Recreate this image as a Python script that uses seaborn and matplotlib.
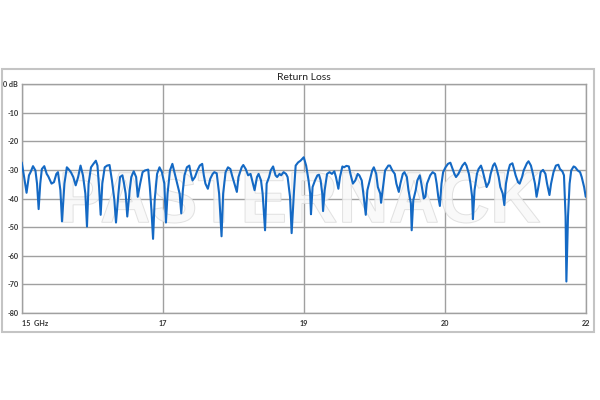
import numpy as np
import matplotlib
matplotlib.use("Agg")
import matplotlib.pyplot as plt
import seaborn as sns
from matplotlib.textpath import TextPath
from matplotlib.patches import PathPatch, Rectangle
from matplotlib.font_manager import FontProperties
from matplotlib.transforms import Affine2D

# frequency sweep (GHz) and return loss (dB)
freq = [15.00, 15.03, 15.06, 15.09, 15.11, 15.14, 15.17, 15.19, 15.21, 15.23,
        15.25, 15.28, 15.31, 15.33, 15.37, 15.40, 15.43, 15.45, 15.48, 15.50,
        15.53, 15.56, 15.58, 15.61, 15.64, 15.67, 15.70, 15.73, 15.76, 15.79,
        15.81, 15.83, 15.86, 15.89, 15.92, 15.94, 15.96, 15.98, 16.00, 16.03,
        16.06, 16.09, 16.12, 16.15, 16.17, 16.20, 16.22, 16.25, 16.27, 16.29,
        16.31, 16.34, 16.36, 16.39, 16.42, 16.44, 16.47, 16.50, 16.53, 16.57,
        16.59, 16.61, 16.63, 16.65, 16.68, 16.71, 16.74, 16.77, 16.79, 16.81,
        16.84, 16.87, 16.89, 16.91, 16.94, 16.96, 16.98, 17.00, 17.02, 17.05,
        17.08, 17.10, 17.12, 17.15, 17.18, 17.21, 17.24, 17.26, 17.28, 17.31,
        17.34, 17.37, 17.39, 17.42, 17.45, 17.48, 17.50, 17.53, 17.56, 17.59,
        17.61, 17.64, 17.67, 17.69, 17.73, 17.75, 17.78, 17.81, 17.84, 17.87,
        17.89, 17.92, 17.94, 17.97, 17.99, 18.02, 18.04, 18.07, 18.09, 18.12,
        18.15, 18.17, 18.20, 18.22, 18.25, 18.28, 18.30, 18.33, 18.35, 18.38,
        18.40, 18.43, 18.46,
        18.50, 18.53, 18.56, 18.58, 18.59, 18.61, 18.64, 18.67, 18.69, 18.71,
        18.73, 18.74, 18.76, 18.79, 18.82, 18.85, 18.88, 18.90, 18.93, 18.95,
        18.98, 19.00, 19.03, 19.06, 19.08, 19.11, 19.14, 19.17, 19.19, 19.22,
        19.24, 19.27, 19.29, 19.32, 19.35, 19.37, 19.40, 19.42, 19.45, 19.46,
        19.49, 19.51, 19.55, 19.57, 19.60, 19.63, 19.65, 19.68, 19.70, 19.73,
        19.75, 19.78, 19.80, 19.83, 19.84, 19.86, 19.89, 19.91, 19.94, 19.96,
        19.99, 20.01, 20.03, 20.07, 20.10, 20.13, 20.15, 20.17, 20.19, 20.21,
        20.23, 20.26, 20.29, 20.32, 20.34, 20.37, 20.39, 20.42, 20.44, 20.47,
        20.50, 20.52, 20.55, 20.57, 20.59, 20.60, 20.62, 20.65, 20.67, 20.70,
        20.72, 20.75, 20.77, 20.80, 20.82, 20.85, 20.87, 20.89, 20.92, 20.94,
        20.97, 20.99, 21.01, 21.04, 21.06, 21.09, 21.11, 21.13, 21.16, 21.18,
        21.21, 21.23, 21.27, 21.29, 21.32, 21.34, 21.37, 21.39, 21.42, 21.44,
        21.47, 21.50, 21.52, 21.55, 21.57, 21.60, 21.63, 21.66, 21.68, 21.71,
        21.73, 21.75, 21.76, 21.78, 21.80, 21.82, 21.85, 21.87, 21.90, 21.93,
        21.95, 21.98, 22.00]
loss = [-27.4, -32.5, -38.0, -31.9, -30.8, -28.7, -30.2, -34.8, -43.7, -34.8,
        -29.7, -28.7, -31.4, -32.3, -34.8, -34.3, -31.4, -30.8, -37.1, -48.0,
        -34.8, -29.1, -29.7, -30.8, -32.5, -35.4, -32.5, -28.5, -31.9, -38.3,
        -49.8, -34.8, -29.1, -27.9, -26.8, -28.5, -36.0, -45.7, -34.8, -29.1,
        -28.5, -28.3, -33.7, -40.6, -48.4, -38.3, -32.5, -31.9, -34.8, -38.3,
        -46.3, -37.1, -32.5, -30.5, -32.5, -39.4, -34.8, -30.8, -30.2, -29.9,
        -36.0, -44.0, -54.1, -40.6, -31.4, -29.1, -30.8, -34.8, -48.4, -38.3,
        -30.2, -27.9, -30.2, -32.5, -36.0, -38.3, -45.2, -37.1, -31.9, -29.1,
        -28.5, -31.4, -33.7, -32.5, -30.2, -28.5, -27.9, -31.9, -34.8, -36.6,
        -33.1, -31.4, -30.8, -31.2, -38.3, -53.2, -38.3, -30.8, -29.1, -29.7,
        -31.9, -34.8, -37.7, -32.5, -29.1, -28.3, -29.7, -31.9, -31.4, -34.8,
        -37.1, -32.5, -31.4, -33.7, -38.3, -51.1, -34.8, -32.5, -30.2, -28.8,
        -31.9, -32.5, -31.4, -31.9, -30.8, -31.4, -32.5, -39.4, -52.1, -37.1,
        -28.5, -27.4, -26.8,
        -25.6, -28.5, -33.7, -38.3, -45.5, -36.0, -33.7, -31.9, -31.7, -33.7,
        -38.3, -44.4, -37.1, -31.4, -30.8, -31.4, -30.5, -32.5, -36.6, -32.5,
        -28.8, -29.1, -28.6, -28.8, -31.4, -34.8, -33.7, -31.4, -31.9, -33.7,
        -38.3, -45.7, -37.1, -33.7, -30.2, -29.1, -31.4, -36.0, -38.3, -41.5,
        -34.8, -30.2, -28.5, -28.5, -30.2, -31.4, -34.8, -37.7, -34.8, -31.4,
        -30.8, -32.5, -37.1, -41.7, -51.1, -40.6, -37.1, -33.7, -31.9, -34.8,
        -40.0, -39.4, -34.8, -31.9, -30.8, -31.4, -34.8, -39.4, -42.6, -34.8,
        -30.8, -29.1, -27.9, -27.5, -29.1, -31.4, -32.5, -31.4, -30.2, -28.5,
        -27.5, -28.5, -31.4, -34.8, -39.4, -47.2, -37.1, -31.4, -29.7, -28.5,
        -30.2, -33.7, -36.0, -34.3, -31.4, -28.5, -27.7, -29.1, -32.5, -36.0,
        -38.3, -42.3, -34.8, -30.2, -28.2, -27.7, -29.7, -31.9, -34.3, -34.8,
        -32.5, -30.2, -27.7, -27.0, -28.5, -30.8, -34.8, -39.4, -34.8, -30.8,
        -30.0, -31.4, -34.8, -38.8, -34.8, -30.8, -28.5, -28.2, -29.7, -30.5,
        -31.9, -46.3, -69.0, -46.3, -34.8, -30.2, -28.8, -29.1, -30.2, -30.8,
        -32.5, -36.0, -39.4]

x_ticks = [15, 17, 19, 20, 22]
x_labels = ["15  GHz", "17", "19", "20", "22"]
y_ticks = [0, -10, -20, -30, -40, -50, -60, -70, -80]
y_labels = ["0 dB", "-10", "-20", "-30", "-40", "-50", "-60", "-70", "-80"]

sns.set_style("white")
plt.rcParams["font.family"] = ["Lato", "DejaVu Sans"]

fig = plt.figure(figsize=(6, 4), dpi=100)
ax = fig.add_axes([0.0362, 0.2175, 0.94, 0.5725])

grid_c = "#a0a0a0"
sns.lineplot(x=freq, y=loss, ax=ax, color="#1469c4", linewidth=1.5,
             estimator=None, sort=False, zorder=3)
ax.lines[0].set_solid_joinstyle("round")

ax.set_xlim(15, 22)
ax.set_ylim(-80, 0)
# the labelled ticks sit evenly spaced across the axis
ax.set_xticks(np.linspace(15, 22, len(x_ticks)))
ax.set_xticklabels(x_labels)
ax.set_yticks(y_ticks)
ax.set_yticklabels(y_labels)
ax.xaxis.get_majorticklabels()[0].set_horizontalalignment("left")
ax.tick_params(axis="both", length=0, labelsize=5.2, labelcolor="#333333")
ax.tick_params(axis="y", pad=2.5)
ax.tick_params(axis="x", pad=5)
for lab in ax.get_xticklabels() + ax.get_yticklabels():
    lab.set_fontweight("bold")
ax.grid(True, color=grid_c, linewidth=1.0)
ax.set_axisbelow(True)
for s in ax.spines.values():
    s.set_color(grid_c)
    s.set_linewidth(1.0)
ax.set_xlabel("")
ax.set_ylabel("")

# watermark
tp = TextPath((0, 0), "PASTERNACK", size=1,
              prop=FontProperties(family="Liberation Sans", weight="bold"))
bb = tp.get_extents()
x0, x1, y0, y1 = 0.0732, 0.919, 0.393, 0.616
tr = Affine2D().translate(-bb.x0, -bb.y0).scale((x1 - x0) / bb.width, (y1 - y0) / bb.height).translate(x0, y0)
ax.add_patch(PathPatch(tr.transform_path(tp), transform=ax.transAxes,
                       facecolor="#f8f8f8", edgecolor="#dadada", lw=0.7,
                       alpha=0.8, zorder=2))

fig.text(0.506, 0.8075, "Return Loss", ha="center", va="center",
         fontsize=7.5, color="#222222")

fig.patches.append(Rectangle((0.003, 0.17), 0.987, 0.6575,
                             transform=fig.transFigure, fill=False,
                             edgecolor="#c4c4c4", linewidth=1.5))

fig.savefig("out.png", dpi=100)
